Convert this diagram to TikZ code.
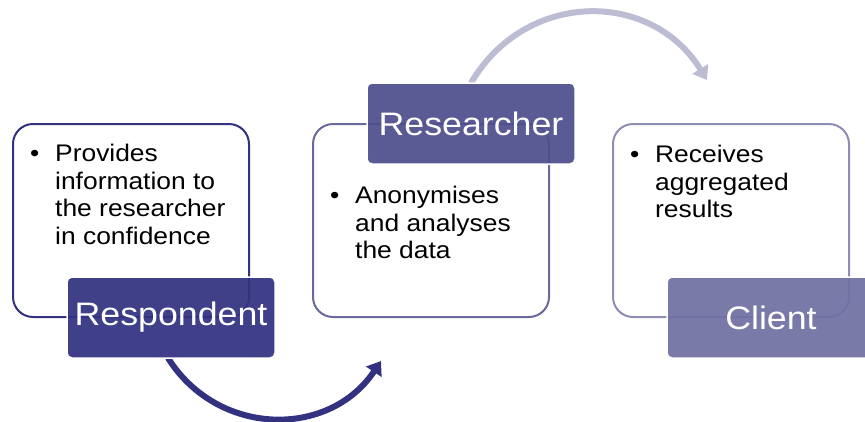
\documentclass[tikz,border=0pt]{standalone}
\usepackage{fontspec}
\setmainfont[FakeStretch=1.1]{Liberation Sans}
\usepackage{tikz}
\usetikzlibrary{positioning}
\usetikzlibrary{arrows.meta,backgrounds}
\definecolor{respblue}{HTML}{323281}
\definecolor{resblue}{HTML}{4E4E8D}
\definecolor{cliblue}{HTML}{7070A3}
\definecolor{arrowgrey}{HTML}{BCBCD2}
\tikzstyle{info box}=[rectangle,rounded corners=20pt,minimum width=236pt,minimum height=193pt,line width=2pt,fill=white,outer sep=0pt]
\tikzstyle{role label}=[rectangle,rounded corners=5pt,minimum width=208pt,minimum height=81pt,draw=white,line width=1.5pt,fill opacity=0.93,text opacity=1,text=white,font=\fontsize{32.5}{38}\selectfont,outer sep=0pt]
\tikzstyle{bullet text}=[inner sep=0pt,font=\fontsize{24}{27.5}\selectfont]
\tikzstyle{flow arrow}=[line width=6pt,-{Triangle[width=18pt,length=13pt]}]
\newcommand{\infobox}[2][]{
  \node [info box, #1] (#2) {}
}
\newcommand{\bulletnote}[3][]{
  \node [bullet text, #1] (#2) {\makebox[25pt][l]{\textbullet}\parbox[t]{200pt}{#3}}
}
\newcommand{\rolelabel}[3][]{
  \node [role label, #1] (#2) {#3}
}

\begin{document}
\begin{tikzpicture}[x=1pt,y=-1pt,node distance=64pt]
        \useasboundingbox (0,0) rectangle (865,421);
        \infobox[draw=respblue,at={(131,220.5)}] {respbox};
        \infobox[draw=resblue!85,right=of respbox] {resbox};
        \infobox[draw=cliblue!80,right=of resbox] {clibox};

        \bulletnote[below right=20pt and 17pt of respbox.north west]{respnote}{Provides\\information to\\the researcher\\in confidence};
        \bulletnote[below right=62pt and 17pt of resbox.north west]{resnote}{Anonymises\\and analyses\\the data};
        \bulletnote[below right=21pt and 17pt of clibox.north west]{clinote}{Receives\\aggregated\\results};

        \rolelabel[fill=respblue,below right=-40pt and -182pt of respbox]{resp}{Respondent};
        \rolelabel[fill=resblue,above right=-40pt and -182pt of resbox]{res}{Researcher};
        \rolelabel[fill=cliblue,below right=-40pt and -182pt of clibox]{cli}{Client};

        \coordinate (resin) at (381,361);
        \coordinate (cliin) at (707,80);

            \begin{scope}[on background layer]
            \draw[flow arrow,draw=respblue] ([xshift=-3pt]resp.south) to[bend right=57,looseness=1.12] (resin);
            \draw[flow arrow,draw=arrowgrey] (res.north) to[bend left=59,looseness=1.16] (cliin);
            \end{scope}
\end{tikzpicture}
\end{document}
